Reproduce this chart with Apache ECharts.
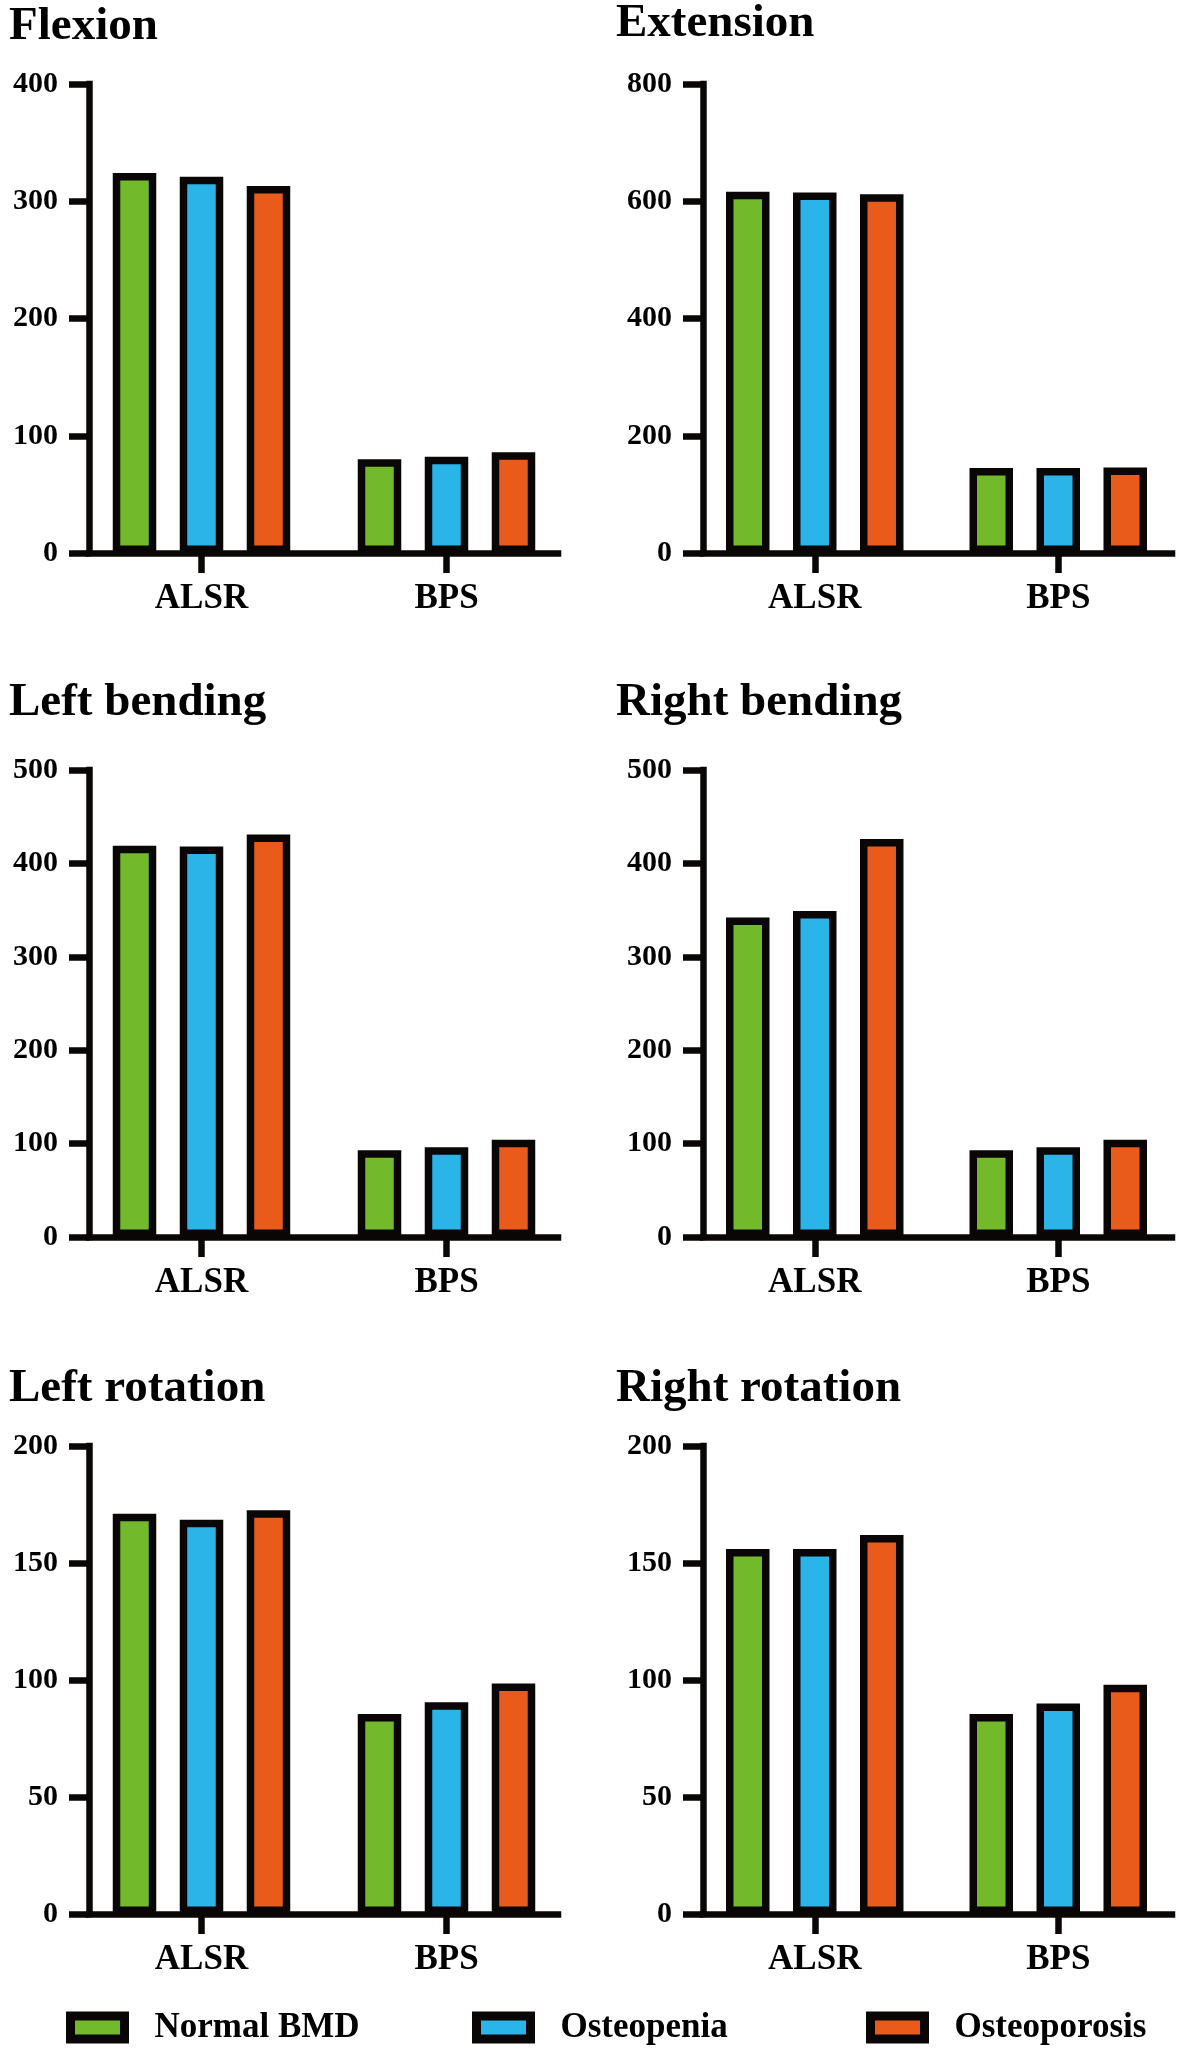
<!DOCTYPE html>
<html>
<head>
<meta charset="utf-8">
<style>
  html, body { margin: 0; padding: 0; background: #ffffff; }
  #chart { width: 1180px; height: 2050px; }
</style>
<script src="https://cdn.jsdelivr.net/npm/echarts@6/dist/echarts.min.js"></script>
</head>
<body>
<div id="chart"></div>
<script>
// ---------------- DATA ----------------
const categories = ['ALSR', 'BPS'];
const groups = ['Normal BMD', 'Osteopenia', 'Osteoporosis'];
const panelTitles = ['Flexion', 'Extension', 'Left bending', 'Right bending', 'Left rotation', 'Right rotation'];

// values per group: [ALSR, BPS]
const flexionNormal = [324, 80];
const flexionOsteopenia = [321, 82];
const flexionOsteoporosis = [313, 86];

const extensionNormal = [616, 145];
const extensionOsteopenia = [615, 145];
const extensionOsteoporosis = [612, 146];

const leftBendingNormal = [419, 93];
const leftBendingOsteopenia = [418, 96];
const leftBendingOsteoporosis = [431, 104];

const rightBendingNormal = [342, 93];
const rightBendingOsteopenia = [349, 96];
const rightBendingOsteoporosis = [426, 104];

const leftRotationNormal = [171, 85.5];
const leftRotationOsteopenia = [168.5, 90.5];
const leftRotationOsteoporosis = [172.5, 98.5];

const rightRotationNormal = [156, 85.5];
const rightRotationOsteopenia = [156, 90];
const rightRotationOsteoporosis = [162, 98];

// y-axis ranges (max, interval) per panel
const yMax = [400, 800, 500, 500, 200, 200];
const yInterval = [100, 200, 100, 100, 50, 50];

const panelData = [
  [flexionNormal, flexionOsteopenia, flexionOsteoporosis],
  [extensionNormal, extensionOsteopenia, extensionOsteoporosis],
  [leftBendingNormal, leftBendingOsteopenia, leftBendingOsteoporosis],
  [rightBendingNormal, rightBendingOsteopenia, rightBendingOsteoporosis],
  [leftRotationNormal, leftRotationOsteopenia, leftRotationOsteoporosis],
  [rightRotationNormal, rightRotationOsteopenia, rightRotationOsteoporosis]
];

// ---------------- STYLE / LAYOUT ----------------
const colors = ['#72B92C', '#2AB4E8', '#E95B1B'];
const ink = '#0a0606';
const FONT = '"Liberation Serif", "Times New Roman", serif';
const LW = 6.5;

const axisLeft = [89, 703];
const axisWidth = 469;
const rowTop = [84, 770, 1446];
const rowZero = [553, 1237, 1914];
const titleLeft = [9, 616];
const titleTop = [3, 0, 679, 679, 1365, 1365];

const grid = [], xAxis = [], yAxis = [], series = [], title = [];

for (let p = 0; p < 6; p++) {
  const col = p % 2, row = Math.floor(p / 2);
  const top = rowTop[row];
  const height = rowZero[row] - rowTop[row];
  // grid A: bars (category band aligned like the reference)
  grid.push({ left: axisLeft[col] - 10, top: top, width: 490, height: height });
  // grid B: visible axes
  grid.push({ left: axisLeft[col], top: top, width: axisWidth, height: height });
  const gA = 2 * p, gB = 2 * p + 1;

  xAxis.push({
    gridIndex: gA, type: 'category', data: categories,
    axisLine: { show: false },
    axisTick: { show: true, alignWithLabel: true, length: 20, lineStyle: { color: ink, width: LW } },
    axisLabel: { margin: 28, color: '#000', fontFamily: FONT, fontWeight: 'bold', fontSize: 35 },
    splitLine: { show: false }
  });
  yAxis.push({ gridIndex: gA, type: 'value', min: 0, max: yMax[p], interval: yInterval[p], show: false });

  xAxis.push({
    gridIndex: gB, type: 'value', min: 0, max: 1,
    axisLine: { show: true, lineStyle: { color: ink, width: LW, cap: 'square' } },
    axisTick: { show: false }, axisLabel: { show: false }, splitLine: { show: false }
  });
  yAxis.push({
    gridIndex: gB, type: 'value', min: 0, max: yMax[p], interval: yInterval[p],
    axisLine: { show: true, lineStyle: { color: ink, width: LW, cap: 'square' } },
    axisTick: { show: true, length: 20, lineStyle: { color: ink, width: LW } },
    axisLabel: { margin: 31, color: '#000', fontFamily: FONT, fontWeight: 'bold', fontSize: 30 },
    splitLine: { show: false }
  });

  for (let g = 0; g < 3; g++) {
    series.push({
      type: 'bar', name: groups[g],
      xAxisIndex: gA, yAxisIndex: gA,
      data: panelData[p][g],
      barWidth: 43.5, barGap: '54%',
      itemStyle: { color: colors[g], borderColor: ink, borderWidth: 7.5 },
      emphasis: { disabled: true },
      animation: false
    });
  }

  title.push({
    text: panelTitles[p], left: titleLeft[col], top: titleTop[p], padding: 0,
    textStyle: { fontFamily: FONT, fontWeight: 'bold', fontSize: 47, lineHeight: 47, color: '#000' }
  });
}

const legendLeft = [66, 472, 866];
const legend = groups.map((name, i) => ({
  data: [name], left: legendLeft[i], top: 2010, padding: 0,
  orient: 'horizontal', icon: 'rect', itemWidth: 54, itemHeight: 23,
  itemStyle: { color: colors[i], borderColor: ink, borderWidth: 9 },
  textStyle: { fontFamily: FONT, fontWeight: 'bold', fontSize: 35, lineHeight: 35, color: '#000', padding: [0, 0, 0, 25] },
  selectedMode: false
}));

const chart = echarts.init(document.getElementById('chart'), null, { renderer: 'canvas' });
chart.setOption({
  backgroundColor: '#ffffff',
  animation: false,
  title: title,
  legend: legend,
  grid: grid,
  xAxis: xAxis,
  yAxis: yAxis,
  series: series
});
</script>
</body>
</html>
